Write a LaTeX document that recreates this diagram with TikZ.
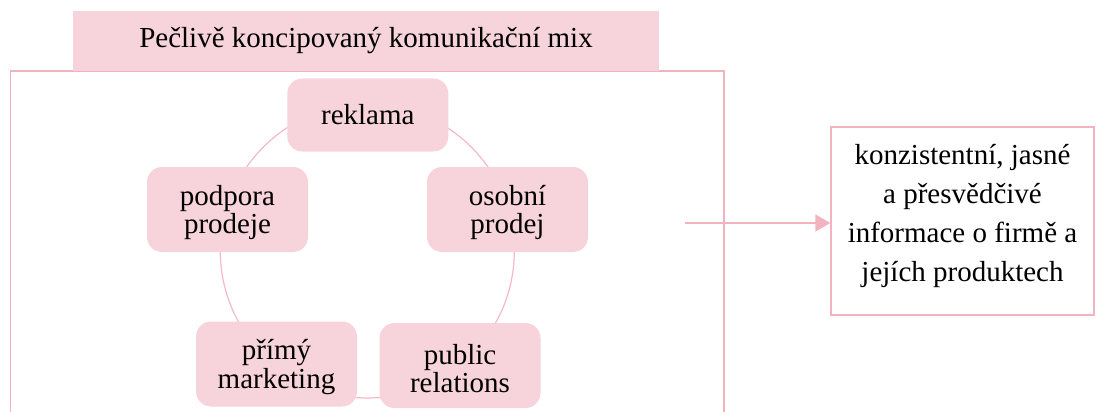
\documentclass[tikz,border=0pt]{standalone}
\usepackage{fontspec}
\setmainfont{Liberation Serif}
\usetikzlibrary{arrows.meta}
\definecolor{pinkfill}{RGB}{247,212,219}
\definecolor{pinkline}{RGB}{242,178,191}
\definecolor{pinkarc}{RGB}{243,186,198}
\newcommand\firstlinestrut{\rule{0pt}{26.5pt}}
\newcommand\lastlinestrut{\rule[-17pt]{0pt}{17pt}}
\tikzset{
  mixitem/.style={fill=pinkfill, rounded corners=15pt, inner sep=0pt, align=center,
    font=\fontsize{29}{28.5}\selectfont, minimum width=161pt},
  headerbox/.style={fill=pinkfill, inner sep=0pt, minimum width=586pt, minimum height=60pt,
    font=\fontsize{29}{34}\selectfont},
  infobox/.style={draw=pinkline, line width=1.5pt, fill=white, inner sep=0pt, align=center,
    minimum width=263pt, minimum height=188pt, font=\fontsize{29}{39}\selectfont},
  frameline/.style={draw=pinkline, line width=1.5pt},
  arcline/.style={draw=pinkarc, line width=1.2pt},
  flowarrow/.style={draw=pinkline, line width=1.5pt, -{Triangle[length=15pt,width=17pt]}}
}
\begin{document}
\begin{tikzpicture}[x=1pt,y=-1pt]
\useasboundingbox (0,0) rectangle (1096,412);
% frame (open at the bottom)
\draw[frameline] (10.5,412) -- (10.5,71) -- (724,71) -- (724,412);
% header
\node[headerbox] (header) at (366,41) {Pečlivě koncipovaný komunikační mix};
% cycle circle
\coordinate (cyc) at (367.3,251);
\draw[arcline] (cyc) circle[radius=147pt];
% items
\node[mixitem, minimum height=73pt] (reklama) at (367.8,115) {reklama};
\node[mixitem, minimum height=85pt] (podpora) at (227.5,209.5) {\firstlinestrut podpora\\prodeje};
\node[mixitem, minimum height=85pt] (osobni) at (507.5,209.5) {\firstlinestrut osobní\\prodej};
\node[mixitem, minimum height=85pt] (primy) at (276.5,364) {\firstlinestrut přímý\\marketing};
\node[mixitem, minimum height=85pt] (public) at (460,365.5) {\firstlinestrut public\\relations};
% result box
\node[infobox] (info) at (962.5,221) {konzistentní, jasné\\a přesvědčivé\\informace o firmě a\\jejích produktech\lastlinestrut};
% arrow
\coordinate (arrowstart) at (685,223);
\draw[flowarrow] (arrowstart) -- (arrowstart -| info.west);
\end{tikzpicture}
\end{document}
